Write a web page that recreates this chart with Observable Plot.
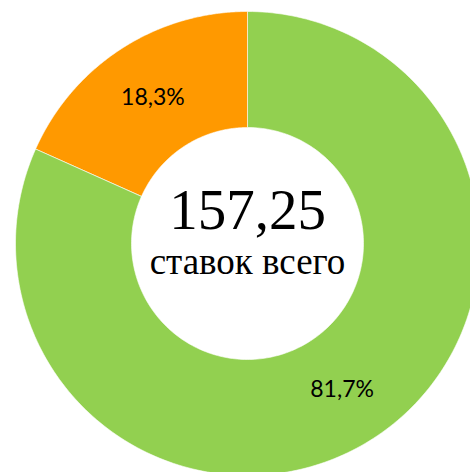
<!DOCTYPE html>
<html>
<head>
<meta charset="utf-8">
<script src="https://cdn.jsdelivr.net/npm/d3@7"></script>
<script src="https://cdn.jsdelivr.net/npm/@observablehq/plot@0.6"></script>
<style>
  html, body { margin: 0; padding: 0; background: #fff; }
</style>
</head>
<body>
<div id="chart"></div>
<script>
const categories = ["Группа A", "Группа B"];
const values = [81.7, 18.3];
const valueLabels = ["81,7%", "18,3%"];
const colors = ["#92D050", "#FF9900"];
const centerValue = "157,25";
const centerLabel = "ставок всего";

const R_OUT = 1, R_IN = 0.5, R_LABEL = 0.75;
const pie = d3.pie().sort(null).value(d => d.value).startAngle(0).endAngle(2 * Math.PI);
const arcs = pie(categories.map((c, i) => ({cat: c, value: values[i], label: valueLabels[i]})));

const pts = [];
for (const a of arcs) {
  const N = 240;
  for (let k = 0; k <= N; k++) {
    const t = a.startAngle + (a.endAngle - a.startAngle) * k / N;
    pts.push({cat: a.data.cat, x: R_OUT * Math.sin(t), y: R_OUT * Math.cos(t)});
  }
  for (let k = N; k >= 0; k--) {
    const t = a.startAngle + (a.endAngle - a.startAngle) * k / N;
    pts.push({cat: a.data.cat, x: R_IN * Math.sin(t), y: R_IN * Math.cos(t)});
  }
}
const labels = arcs.map(a => {
  const m = (a.startAngle + a.endAngle) / 2;
  return {x: R_LABEL * Math.sin(m), y: R_LABEL * Math.cos(m), text: a.data.label};
});

const W = 470, H = 472, CX = 247, CY = 243, RPX = 232;
const chart = Plot.plot({
  width: W,
  height: H,
  margin: 0,
  axis: null,
  x: {domain: [-CX / RPX, (W - CX) / RPX]},
  y: {domain: [-(H - CY) / RPX, CY / RPX]},
  color: {domain: categories, range: colors},
  style: {background: "#fff"},
  marks: [
    Plot.line(pts, {x: "x", y: "y", z: "cat", fill: "cat", stroke: "white", strokeWidth: 0.6, curve: "linear-closed"}),
    Plot.text(labels, {x: "x", y: "y", text: "text", fontSize: 23, fontFamily: "Lato, 'Open Sans', sans-serif", fill: "#000"}),
    Plot.text([centerValue], {x: () => 0, y: () => 0, text: d => d, dy: -15, lineAnchor: "bottom", fontSize: 57, fontFamily: "'Liberation Serif', 'DejaVu Serif', serif", fill: "#000"}),
    Plot.text([centerLabel], {x: () => 0, y: () => 0, text: d => d, dy: 30, lineAnchor: "bottom", fontSize: 37, fontFamily: "'Liberation Serif', 'DejaVu Serif', serif", fill: "#000"})
  ]
});
document.getElementById("chart").appendChild(chart);
</script>
</body>
</html>
